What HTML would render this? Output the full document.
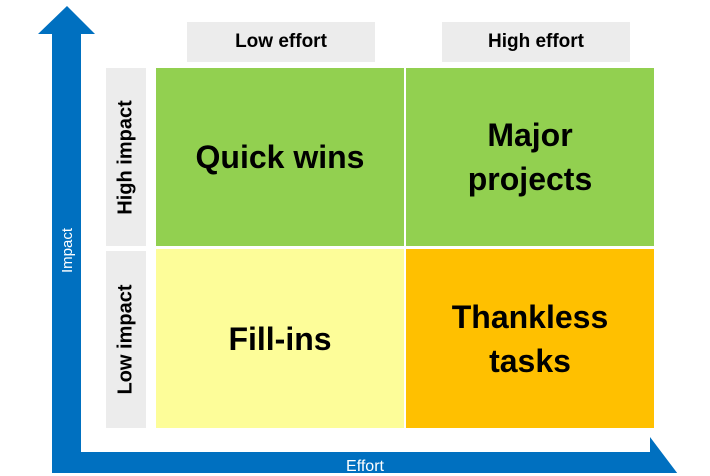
<!DOCTYPE html>
<html><head><style>
body{margin:0;width:710px;height:473px;overflow:hidden;background:#fff;position:relative;font-family:"Liberation Sans",sans-serif}
.a{position:absolute}
.hdr{background:#ececec;display:flex;align-items:center;justify-content:center;font-weight:bold;font-size:19px;color:#000}
.q{display:flex;align-items:center;justify-content:center;text-align:center;font-weight:bold;font-size:32px;line-height:44px;color:#000}
.rot{transform:rotate(-90deg);white-space:nowrap}
</style></head><body>
<svg class="a" style="left:0;top:0" width="710" height="473">
<polygon points="67,6 95,34 81,34 81,452 650,452 650,437 690,490 650,490 52,490 52,34 38,34" fill="#0070C0"/>
</svg>
<div class="a" style="left:52px;top:230px;width:30px;height:40px;display:flex;align-items:center;justify-content:center"><span class="rot" style="color:#fff;font-size:15px">Impact</span></div>
<div class="a" style="left:330px;top:458px;width:70px;text-align:center;color:#fff;font-size:16px">Effort</div>
<div class="a hdr" style="left:187px;top:22px;width:188px;height:40px">Low effort</div>
<div class="a hdr" style="left:442px;top:22px;width:188px;height:40px">High effort</div>
<div class="a hdr" style="left:106px;top:68px;width:40px;height:178px;font-size:20px"><span class="rot">High impact</span></div>
<div class="a hdr" style="left:106px;top:251px;width:40px;height:177px;font-size:20px"><span class="rot">Low impact</span></div>
<div class="a q" style="left:156px;top:68px;width:248px;height:178px;background:#92D050">Quick wins</div>
<div class="a q" style="left:406px;top:68px;width:248px;height:178px;background:#92D050">Major<br>projects</div>
<div class="a q" style="left:156px;top:249px;width:248px;height:179px;background:#FDFD99">Fill-ins</div>
<div class="a q" style="left:406px;top:249px;width:248px;height:179px;background:#FFC000">Thankless<br>tasks</div>
</body></html>
